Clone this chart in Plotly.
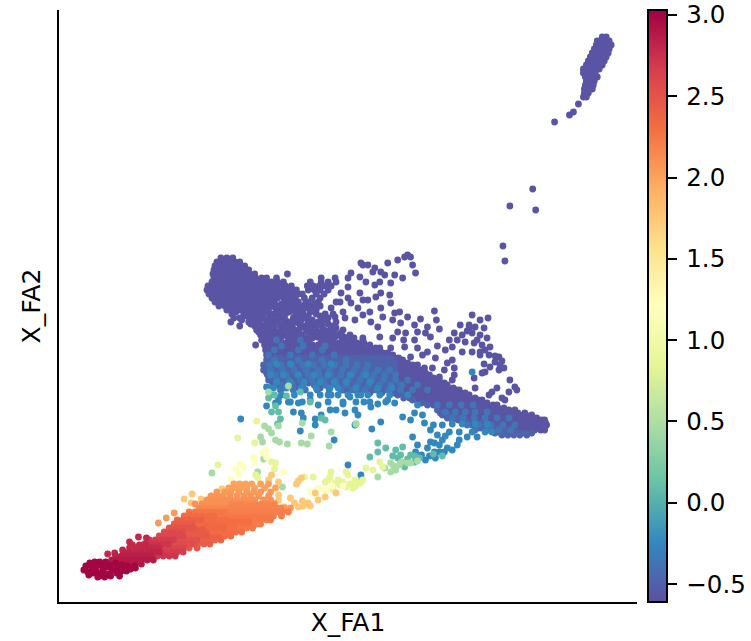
import plotly.graph_objects as go

# Values: FA1 / FA2 embedding positions, in arbitrary embedding units.
# *_rows entries: (fa2, [fa1, ...]); *_pts entries: (fa1, fa2); band_rows entries: (value, fa2, [fa1, ...])
colour_ticks = [-0.5, 0.0, 0.5, 1.0, 1.5, 2.0, 2.5, 3.0]
colour_tick_labels = ["\u2009\u22120.5", "\u20090.0", "\u20090.5", "\u20091.0", "\u20091.5", "\u20092.0", "\u20092.5", "\u20093.0"]

streak_rows = [
 (37,[606,610]),(41,[601,605,609,613]),(45,[600,604,608,612,615]),(49,[598,602,606,610,613]),
 (53,[596,600,604,608,612]),(57,[594,598,602,606,610]),(61,[592,596,600,604,608]),
 (65,[590,594,598,602,606]),(69,[587,591,595,599,603]),(73,[587,591,595,599]),(77,[589,593,597,601]),
 (81,[590,594,598]),(85,[589,593,597]),(89,[588,592,596]),(93,[588,592]),(97,[587,590]),
]
purple_rows = [
 (258,[222,228,234]),(262,[218,224,230,236,241]),(266,[216,222,228,234,240,246]),
 (270,[215,221,227,233,239,245,250]),(274,[214,220,226,232,238,244,250,256,289]),
 (278,[215,221,227,233,239,245,251,257,263,268,278,323,337]),
 (282,[213,219,225,231,237,243,249,255,261,267,273,279,285,312,323,330,338]),
 (286,[209,215,221,227,233,239,245,251,257,263,269,275,281,287,293,309,315,321,327,333]),
 (290,[208,214,220,226,232,238,244,250,256,262,268,274,280,286,292,298,310,316,322,330]),
 (294,[210,216,222,228,234,240,246,252,258,264,270,276,282,288,294,300,304,318,326]),
 (298,[213,219,225,231,237,243,249,255,261,267,273,279,285,291,297,306,314,322]),
 (302,[216,222,228,234,240,246,252,258,264,270,276,288,294,300,310,320]),
 (306,[220,226,232,238,244,250,256,268,274,280,286,292,304,312,322]),
 (310,[228,234,240,252,258,264,270,282,288,294,300,318]),
 (314,[233,245,251,257,263,275,281,287,299,305,318,327,335]),
 (318,[235,241,253,259,265,277,283,295,301,307,330]),
 (322,[232,250,256,268,274,280,292,298,310,320,338]),
 (326,[241,256,264,270,282,288,294,306,312,324,335]),
 (330,[258,266,272,284,290,296,308,314,326,332,345]),
 (335,[262,268,274,286,292,298,304,316,322,328,340,352]),
 (340,[263,269,275,281,293,299,305,311,323,329,335,347,353,365]),
 (345,[257,266,272,278,284,290,296,302,308,314,320,326,332,338,344,350,356,362,372]),
 (350,[267,273,279,285,291,297,303,309,315,321,327,333,339,345,351,357,363,369,375,382]),
 (355,[268,274,280,286,292,298,304,310,316,322,328,334,340,346,352,358,364,370,376,382,388,395]),
 (360,[400,405]),(365,[403,409,415]),(370,[403,409,415,421,425]),(375,[401,407,413,419,425,432]),
 (380,[402,408,414,420,426,432,438,442]),(385,[404,410,416,422,428,434,440,446,450]),
 (390,[405,411,417,423,429,435,441,447,453,459,462]),
 (395,[412,418,424,430,436,442,448,454,460,466,472]),
 (400,[421,427,433,439,445,451,457,463,469,475,481,485]),
 (405,[436,442,448,454,460,466,472,478,484,490,496,500]),
 (410,[446,452,458,464,470,476,482,488,494,500,506,512,518]),
 (415,[457,463,469,475,481,487,493,499,505,511,517,523,529,535]),
 (420,[473,479,485,491,497,503,509,515,521,527,533,539,545,548]),
 (425,[493,499,505,511,517,523,529,535,541,547,550]),
 (430,[514,520,526,532,538,544,548]),
]
purple_mid_rows = [
 (304,[261,283,297,307,316]),(308,[247,263,277,289,299,308,316]),(312,[237,246,267,279,291,303,312]),
 (316,[248,261,271,285,297,310,322]),(320,[243,262,271,287,303,314,325]),(324,[252,260,275,286,301,316,330]),
 (328,[262,276,291,302,318,338]),(332,[260,270,281,299,310,322,336]),(337,[265,283,301,319,337,346]),
]
purple_fill_rows = [
 (333,[265,277,283,295,301,313,319,331,343]),
 (338,[272,278,290,296,308,314,326,332,344,356]),
 (343,[269,275,287,293,305,311,323,329,341,347,359,366]),
 (348,[270,276,282,288,294,300,306,312,318,324,330,336,342,348,354,360,366,372,378]),
 (353,[271,277,283,289,295,301,307,313,319,325,331,337,343,349,355,361,367,373,379,385,390]),
 (358,[397,401]),(363,[403,410]),(368,[400,406,412,419]),(373,[400,406,412,418,424,428]),
 (378,[399,405,411,417,423,429,436]),(383,[400,406,412,418,424,430,436,442,447]),
 (388,[402,408,414,420,426,432,438,444,450,456]),
 (393,[403,409,415,421,427,433,439,445,451,457,463,468]),
 (398,[418,424,430,436,442,448,454,460,466,472,478]),
 (403,[430,436,442,448,454,460,466,472,478,484,490]),
 (408,[441,447,453,459,465,471,477,483,489,495,501,507]),
 (413,[455,461,467,473,479,485,491,497,503,509,515,521,528]),
 (418,[468,474,480,486,492,498,504,510,516,522,528,534,540]),
 (423,[490,496,502,508,514,520,526,532,538,544,549]),
 (428,[513,519,525,531,537,543,548]),
]
slate_rows = [
 (358,[271,277,283,289,295,301,307,313,319,325,331,337,343,349,355,361,367,373,379,385,391]),
 (360,[268,274,280,286,292,298,304,310,316,322,328,334,340,346,352,358,364,370,376,382,388,394]),
 (363,[271,277,283,289,295,301,307,313,319,325,331,337,343,349,355,361,367,373,379,385,391,397]),
 (365,[265,271,277,283,289,295,301,307,313,319,325,331,337,343,349,355,361,367,373,379,385,391,397]),
 (368,[268,274,280,286,292,298,304,310,316,322,328,334,340,346,352,358,364,370,376,382,388,394]),
 (370,[265,271,277,283,289,295,301,307,313,319,325,331,337,343,349,355,361,367,373,379,385,391,397]),
 (373,[268,274,280,286,292,298,304,310,316,322,328,334,340,346,352,358,364,370,376,382,388,394]),
 (375,[269,275,281,287,293,299,305,311,317,323,329,335,341,347,353,359,365,371,377,383,389,395]),
 (378,[273,279,285,291,297,303,309,315,321,327,333,339,345,351,357,363,369,375,381,387,393]),
 (380,[270,276,282,288,294,300,306,312,318,324,330,336,342,348,354,360,366,372,378,384,390,396]),
 (383,[274,286,298,310,322,334,346,352,358,364,370,376,382,388,394]),
 (385,[280,292,304,316,328,340,350,356,362,368,374,380,386,392,398]),
 (388,[285,300,322,345,354,360,366,372,378,384,390,396]),
 (390,[345,351,357,363,369,375,381,387,393,399]),
 (393,[350,372,384,396]),(395,[400,406]),(398,[406,412]),(400,[415]),(403,[424]),(405,[430]),
 (410,[440]),(413,[443,449]),(415,[445,451]),(418,[450,456,462]),(420,[455,461,467]),(423,[466,472,478,484]),
 (425,[475,481,487]),(428,[483,489,495,501,507]),(430,[490,496,502,508]),(433,[498,504,510,516,522,528,535]),
 (435,[505,511,517,523,530]),
]
purple_pts = [
 (558,122),(573,115),(577,112),(582,104),(536,189),(513,206),(539,210),(506,246),(508,261),
 (363,263),(370,265),(377,268),(383,272),(390,263),(400,260),(410,255),(415,265),(418,273),(405,278),
 (397,275),(387,275),(375,272),(365,265),(413,257),(407,257),(353,273),(350,278),(362,277),(368,282),
 (377,285),(382,282),(393,283),(350,287),(362,293),(343,293),(383,293),(378,297),(392,295),(370,300),
 (365,300),(350,298),(342,302),(353,303),(338,302),(393,303),(383,308),(372,312),(360,308),(365,315),
 (345,312),(357,320),(347,318),(337,317),(333,308),(373,322),(385,317),(397,313),(402,312),(437,311),
 (395,320),(410,317),(403,323),(380,327),(423,319),(439,320),(417,325),(430,327),(408,333),(400,332),
 (420,332),(428,333),(442,329),(382,337),(395,338),(406,340),(365,338),(417,340),(433,337),(382,348),
 (393,348),(407,347),(420,348),(440,346),(430,352),(448,350),(387,358),(400,362),(413,357),(425,355),
 (438,358),(450,363),(455,360),(457,368),(447,370),(435,368),(427,368),(413,368),(420,365),(457,375),
 (442,377),(455,380),(432,378),(447,385),(427,383),(477,378),(478,388),(492,395),(500,388),(495,392),
 (512,392),(518,387),(520,390),(505,398),(508,400),(513,380),(485,373),(488,372),
 (475,315),(483,320),(491,318),(463,325),(472,325),(478,327),(487,328),(457,333),(465,335),(475,333),
 (483,335),(490,338),(452,340),(460,340),(468,342),(477,343),(485,345),(493,347),(455,347),(465,352),
 (475,352),(483,352),(492,355),(487,364),(502,357),(498,362),(503,365),(502,370),(493,367),(483,355),
 (507,368),(472,328),(470,331),(480,340),(488,350),(498,356),(505,361),
]
indigo_rows = [
 (340,[278,302]),(346,[283,305,327]),(350,[276,300,324]),
 (355,[270,292,314,336]),(360,[276,300,324,348]),
 (365,[271,282,293,304,315,326,337,348,359,370]),(370,[272,284,296,308,320,332,344,356,368,380,392]),
 (375,[277,288,299,310,321,332,343,354,365,376,387,398]),(380,[278,290,302,314,326,338,350,362,374,386,398,410]),
 (385,[283,294,305,316,327,338,349,360,371,382,393,404,420]),(390,[282,295,307,319,331,343,355,367,379,391,403,415,430]),
 (405,[440,452,464,476]),(412,[448,458,468,478,490]),(418,[455,466,477,488,500,512]),
 (425,[470,482,494,506,518]),(430,[478,490,502,514]),
]
blue_rows = [
 (364,[278,292,310,333]),(375,[272,285,300,316,330,352,368]),(382,[278,292,306,322,336,348,372]),
 (388,[275,288,303,318,332,340,358,380,394]),(395,[272,283,296,312,322,330,340,350,360,370,382,392,410]),
 (402,[280,292,304,330,345,358,372,388]),(424,[455,465,478,490]),(432,[462,475,488,495]),(437,[470,480]),
]
blue_pts = [
 (268,387),(272,388),(268,406),(277,403),(295,412),(303,413),(305,418),(317,419),(317,425),(323,415),
 (332,410),(338,410),(347,413),(357,410),(360,415),(357,425),(374,429),(383,422),(405,417),(417,413),
 (427,423),(433,430),(415,437),(336,440),(302,431),(242,419),(300,403),(320,405),(373,407),(390,400),
 (397,403),(352,397),(363,395),(333,395),(475,372),(437,452),(428,460),(438,458),(447,452),(455,450),
 (437,443),(433,442),(440,435),(418,452),(350,465),(363,475),(420,445),(445,440),(452,432),(462,440),
 (280,398),(290,402),(312,400),(345,404),(366,402),(380,404),(420,405),(425,415),(436,425),(445,425),
 (424,455),(432,456),(442,452),(450,448),(460,445),(442,445),(430,448),(413,420),(448,436),
]
teal_pts = [
 (380,443),(380,452),(388,448),(372,457),(398,450),(405,447),(413,455),(400,458),(417,462),(445,456),
 (273,412),(280,412),(327,420),(323,418),(358,424),(277,406),(288,396),(302,392),(282,419),(279,424),
 (276,395),(270,398),(312,402),(407,467),(395,456),(403,455),(410,459),(417,456),(422,458),(436,454),
]
green_pts = [
 (393,463),(398,470),(393,472),(380,477),(387,468),(266,426),(270,429),(273,433),(262,437),(264,442),
 (277,440),(281,442),(289,444),(303,443),(309,444),(313,436),(331,446),(333,432),(304,423),(280,426),
 (358,424),(265,459),(284,487),(213,473),(259,472),(363,481),(402,465),(410,463),(270,392),(290,386),
 (396,466),(404,462),(413,463),(420,461),
]
lime_pts = [
 (258,421),(256,443),(239,438),(368,468),(375,470),(382,462),(385,467),(365,480),(357,480),(362,483),
 (350,475),(333,472),(348,472),(348,487),(342,485),(337,483),(332,477),(327,482),(335,490),(330,480),
 (355,488),(315,477),(306,477),(219,465),(276,469),(273,462),(277,463),(259,478),(257,475),
 (340,480),(345,482),(352,484),(358,486),
]
yellow_pts = [
 (264,453),(267,451),(255,457),(256,462),(268,457),(242,464),(245,467),(237,469),(240,475),(285,472),
 (232,479),(312,492),(320,488),(326,490),(345,486),(334,486),(328,491),(318,497),
]
pale_orange_pts = [
 (193,494),(185,499),(192,503),(202,499),(300,481),(298,484),(303,478),(270,480),(280,482),(273,475),
 (292,498),(280,495),(280,500),(304,501),(310,503),(317,493),(320,500),(327,497),(338,493),(312,506),
 (300,507),(267,503),(273,502),(223,489),(305,506),(296,503),(286,507),
]
band_rows = [
 (2.0,484,[235,241,247,253,262,270]),(2.0,488,[230,236,242,248,256,266,277]),
 (2.05,492,[218,226,232,240,248,255,262,272]),(2.08,496,[212,218,224,231,238,245,252,260,270]),
 (2.1,500,[208,214,220,226,232,238,244,250,256,265,272]),
 (2.1,504,[196,203,209,215,221,227]),(2.15,504,[233,239,245,251,257,263,269,276]),
 (2.15,508,[200,206,212,218,224]),(2.18,508,[230,236,242,248,254,260,266,272,278,282]),(2.05,508,[286,292]),
 (2.25,512,[190,196,202,208,214,220,226]),(2.2,512,[232,238,244,250,256,262,268,274,280,284,290]),
 (2.32,516,[185,191,197,203,209,215]),(2.22,516,[221,227,233,239,245,251,257,263,269,275,283]),
 (2.4,520,[178,184,190,196,202]),(2.3,520,[208,214,220,226]),(2.22,520,[232,238,244,250,256,262,268,272]),
 (2.45,524,[175,181,187,193]),(2.33,524,[199,205,211,217,223]),(2.22,524,[229,235,241,247,253,258,262]),
 (2.5,528,[170,176,182,188,194]),(2.35,528,[200,206,212,218,224]),(2.25,528,[230,236,242,248,254]),
 (2.55,532,[165,171,177,183]),(2.42,532,[189,195,201,207]),(2.3,532,[213,219,225,231,237,243]),
 (2.6,536,[160,166,172,178,184]),(2.45,536,[190,196,202,208]),(2.32,536,[214,220,226,232]),
 (2.68,540,[150,156,162,168,174]),(2.52,540,[180,186,192,198]),(2.38,540,[204,210,216,222]),
 (2.72,544,[145,151,157,163,169]),(2.55,544,[175,181,187,193]),(2.42,544,[199,205,211]),
 (2.78,548,[130,136,142,148,154,160]),(2.62,548,[166,172,178,184]),(2.48,548,[190,198]),
 (2.82,552,[124,130,136,142,148,154,160]),(2.68,552,[166,172,178,184]),
 (2.85,556,[116,122,128,134,140,146,152]),(2.72,556,[158,164,170,176]),
 (2.88,560,[112,118,124,130,136,142,148,154]),(2.9,564,[118,124,130,136,142]),(2.95,568,[124,130,136]),
 (2.6,534,[168,174,180]),(2.45,530,[186,192,198,204]),(2.3,526,[205,211,217,223,229,235]),
 (2.25,518,[224,230,236,242,248,254,260,266,272]),(2.18,506,[236,242,248,254,260,266,272]),
 (2.75,546,[140,146,152,158]),(2.8,554,[127,133,139,145,151]),(2.85,558,[121,127,133,139,145,151]),
 (2.4,538,[196,202,208,214,220]),(2.5,542,[178,184,190,196]),(2.3,522,[214,220,226,232,238,244,250]),
 (2.05,523,[159]),(2.05,518,[167]),(2.05,513,[175]),
]
deep_red_pts = [
 (108,554),(115,553),(123,550),(130,542),(133,545),(139,537),(147,538),(140,545),(146,545),(150,548),(156,552),
]
crimson_pts = [
 (84,570),(86,566),(88,572),(90,563),(92,568),(93,573),(95,562),(96,567),(97,572),(100,576),(100,562),(102,566),
 (103,571),(106,562),(107,567),(107,574),(111,565),(112,570),(111,576),(116,563),(117,568),(117,573),(122,565),
 (122,571),(127,566),(127,571),(98,577),(105,577),(89,575),(120,576),(131,569),(135,566),
]

def unroll(rows):
    return [(a, b) for b, xs in rows for a in xs]

groups = [
 (-0.58, unroll(streak_rows) + unroll(purple_rows) + unroll(purple_mid_rows) + unroll(purple_fill_rows) + purple_pts),
 (-0.48, unroll(slate_rows)),
 (-0.36, unroll(indigo_rows)),
 (-0.25, unroll(blue_rows) + blue_pts),
 (0.08, teal_pts),
 (0.45, green_pts),
 (0.85, lime_pts),
 (1.2, yellow_pts),
 (1.75, pale_orange_pts),
 (2.8, deep_red_pts),
 (3.0, crimson_pts),
]
for v, b, xs in band_rows:
    groups.append((v, [(a, b) for a in xs]))
groups.sort(key=lambda g: g[0])

fa1, fa2, val = [], [], []
for v, pts in groups:
    for a, b in pts:
        fa1.append(a); fa2.append(b); val.append(v)

fig = go.Figure(go.Scatter(
    x=fa1, y=fa2, mode="markers",
    marker=dict(size=6.8, color=val, colorscale="Spectral_r", cmin=-0.61, cmax=3.03, line=dict(width=0),
        colorbar=dict(xref="container", x=648/755, xanchor="left", y=0, yanchor="bottom", len=1, lenmode="fraction",
            thickness=19, thicknessmode="pixels", outlinewidth=2, outlinecolor="black",
            tickvals=colour_ticks, ticktext=colour_tick_labels, ticks="outside", ticklen=9, tickwidth=2,
            tickcolor="black", tickfont=dict(size=24.5, color="black"), xpad=0, ypad=0)),
    hoverinfo="skip", showlegend=False))
axis = dict(showgrid=False, zeroline=False, showticklabels=False, ticks="", showline=True, linecolor="black",
            linewidth=2, mirror=False)
fig.update_layout(
    width=755, height=641, margin=dict(l=59, r=106, t=10, b=39), paper_bgcolor="white", plot_bgcolor="white",
    font=dict(family="DejaVu Sans", size=24, color="black"),
    xaxis=dict(range=[59, 641], title=dict(text="X_FA1", standoff=10, font=dict(size=25)), **axis),
    yaxis=dict(range=[602, 10], title=dict(text="X_FA2", standoff=9, font=dict(size=25)), **axis),
)
fig.write_html("out.html", config=dict(displayModeBar=False),
               post_script="document.body.style.margin='0';document.documentElement.style.overflow='hidden';")
